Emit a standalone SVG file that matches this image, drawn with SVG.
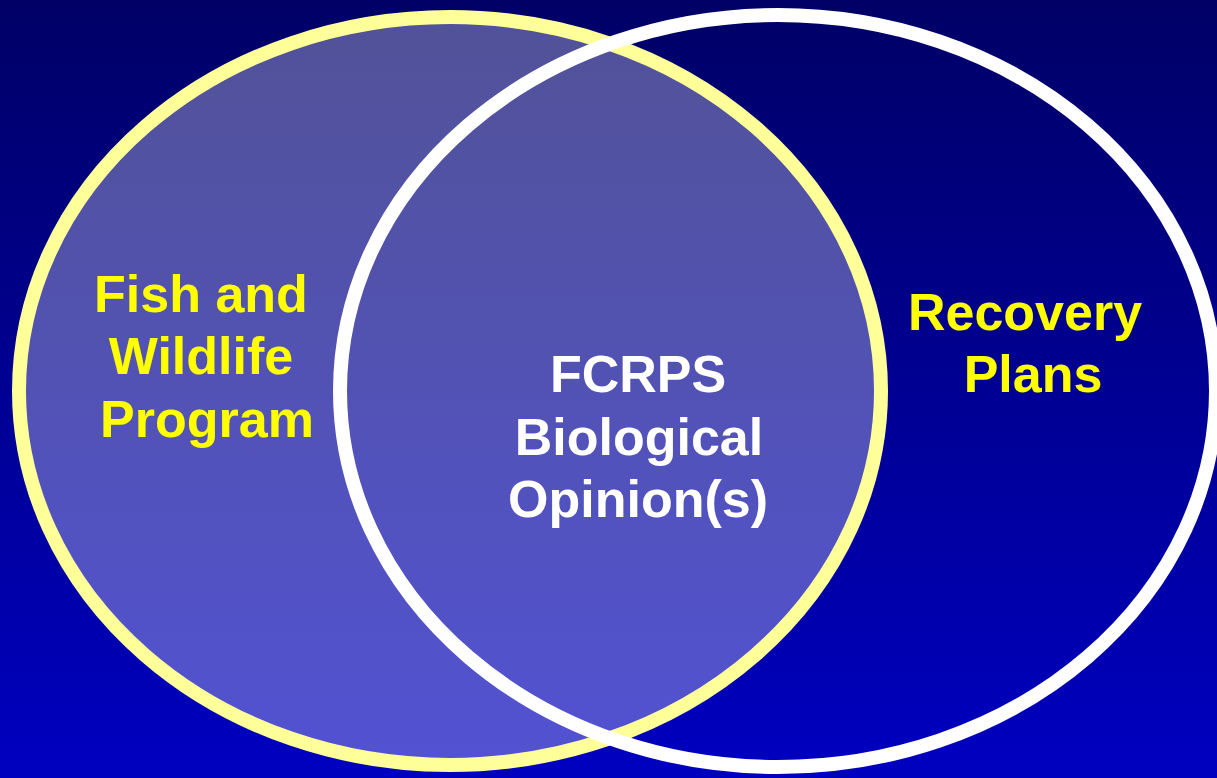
<svg xmlns="http://www.w3.org/2000/svg" width="1217" height="778" viewBox="0 0 1217 778">
  <defs>
    <linearGradient id="bg" x1="0" y1="0" x2="0" y2="1">
      <stop offset="0" stop-color="#000066"/>
      <stop offset="1" stop-color="#0000C0"/>
    </linearGradient>
    <style>
      .lbl { font-family: "Liberation Sans", Arial, sans-serif; font-weight: bold; font-size: 52px; text-anchor: middle; }
      .y { fill: #FFFF00; }
      .w { fill: #FFFFFF; }
    </style>
  </defs>
  <rect x="0" y="0" width="1217" height="778" fill="url(#bg)"/>
  <g id="fish-wildlife">
    <ellipse cx="450" cy="391" rx="431" ry="374" fill="#FFFFFF" fill-opacity="0.32" stroke="#FFFF99" stroke-width="14"/>
  </g>
  <g id="recovery">
    <ellipse cx="778" cy="391" rx="438" ry="376" fill="none" stroke="#FFFFFF" stroke-width="14"/>
  </g>
  <g id="connectors"></g>
  <g id="labels">
    <text class="lbl y" x="201" y="312">Fish and</text>
    <text class="lbl y" x="201" y="374">Wildlife</text>
    <text class="lbl y" x="207" y="437">Program</text>
    <text class="lbl w" x="638" y="392">FCRPS</text>
    <text class="lbl w" x="639" y="455">Biological</text>
    <text class="lbl w" x="638" y="517">Opinion(s)</text>
    <text class="lbl y" x="1025" y="330">Recovery</text>
    <text class="lbl y" x="1033" y="392">Plans</text>
  </g>
</svg>
